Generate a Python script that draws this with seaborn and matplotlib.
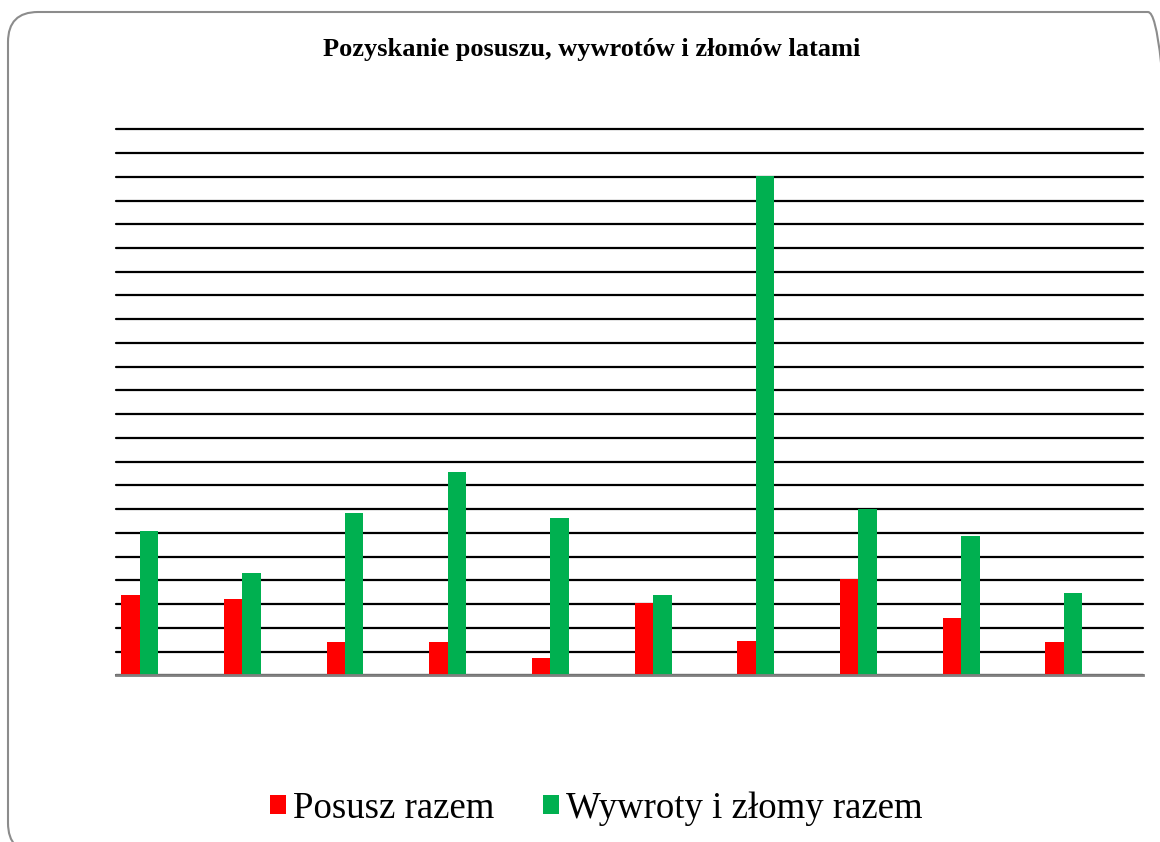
import numpy as np
import pandas as pd
import seaborn as sns
import matplotlib.pyplot as plt
from matplotlib.patches import FancyBboxPatch, Patch

# values (one unit = one gridline step)
years = ['2000', '2001', '2002', '2003', '2004', '2005', '2006', '2007', '2008', '2009']
posusz = [3.40, 3.21, 1.39, 1.42, 0.72, 3.03, 1.46, 4.04, 2.43, 1.39]
wywroty = [6.09, 4.32, 6.82, 8.55, 6.61, 3.40, 21.05, 7.00, 5.87, 3.47]
series = ['Posusz razem', 'Wywroty i złomy razem']
# the original chart keeps three empty series slots next to the two drawn ones
empty_slots = ['_s3', '_s4', '_s5']

df = pd.DataFrame({
    'rok': years * 2,
    'wartosc': posusz + wywroty,
    'seria': [series[0]] * len(years) + [series[1]] * len(years),
})

colors = {series[0]: '#FF0000', series[1]: '#00B050'}
palette = dict(colors)
palette.update({s: 'white' for s in empty_slots})

sns.set_style('white')
plt.rcParams['font.family'] = ['Liberation Serif', 'DejaVu Serif']
plt.rcParams['text.color'] = 'black'

fig = plt.figure(figsize=(11.6, 8.42), dpi=100)
ax = fig.add_axes([0.1, 0.198, 0.8853, 0.6484])

sns.barplot(data=df, x='rok', y='wartosc', hue='seria',
            hue_order=series + empty_slots, palette=palette,
            width=0.9, dodge=True, saturation=1, legend=False, ax=ax)

ax.set_xlim(-0.5, len(years) - 0.5)
ax.set_ylim(0, 23)
ax.set_yticks(np.arange(0, 24))
ax.yaxis.grid(True, color='black', linewidth=1.6)
ax.set_axisbelow(True)
ax.set_xlabel('')
ax.set_ylabel('')
ax.set_xticklabels([])
ax.set_yticklabels([])
ax.tick_params(length=0)
for side in ['top', 'left', 'right']:
    ax.spines[side].set_visible(False)
ax.spines['bottom'].set_color('#808080')
ax.spines['bottom'].set_linewidth(2)
for line in ax.get_ygridlines():
    line.set_clip_on(False)
for p in ax.patches:
    p.set_edgecolor('none')

fig.text(0.51, 0.941, 'Pozyskanie posuszu, wywrotów i złomów latami',
         ha='center', va='center', fontsize=19, fontweight='bold', color='black')

handles = [Patch(facecolor=colors[s], edgecolor='none') for s in series]
leg = fig.legend(handles, series, loc='center', bbox_to_anchor=(0.514, 0.04),
                 ncol=2, frameon=False, fontsize=26.5, handlelength=0.44,
                 handleheight=0.44, handletextpad=0.2, columnspacing=1.3)
for t in leg.get_texts():
    t.set_color('black')

frame = FancyBboxPatch((0.08, -0.11), 11.70, 8.41,
                       boxstyle='round,pad=0,rounding_size=0.3',
                       transform=fig.dpi_scale_trans, facecolor='none',
                       edgecolor='#8c8c8c', linewidth=1.5)
fig.patches.append(frame)

plt.savefig('out.png', dpi=100)
plt.close()
